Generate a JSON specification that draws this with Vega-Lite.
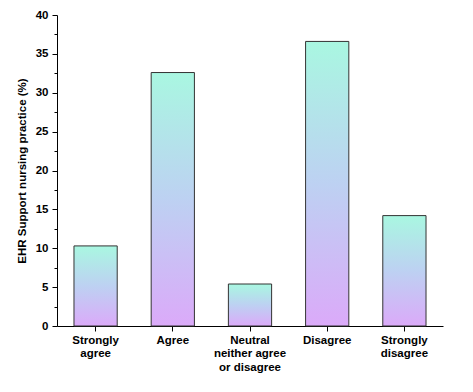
{
  "$schema": "https://vega.github.io/schema/vega-lite/v6.json",
  "width": 386,
  "height": 311,
  "autosize": {"type": "none"},
  "padding": {"left": 57, "top": 15, "right": 30, "bottom": 66},
  "background": "white",
  "config": {"view": {"stroke": null}, "font": "Liberation Sans"},
  "data": {
    "values": [
      {"response": "Strongly|agree", "pct": 10.3},
      {"response": "Agree", "pct": 32.6},
      {"response": "Neutral|neither agree|or disagree", "pct": 5.4},
      {"response": "Disagree", "pct": 36.6},
      {"response": "Strongly|disagree", "pct": 14.2}
    ]
  },
  "mark": {
    "type": "bar",
    "stroke": "#333333",
    "strokeWidth": 1,
    "fill": {
      "gradient": "linear",
      "x1": 0, "y1": 0, "x2": 0, "y2": 1,
      "stops": [
        {"offset": 0, "color": "#a9f7e1"},
        {"offset": 0.5, "color": "#bdd1f2"},
        {"offset": 1, "color": "#dbaaf9"}
      ]
    }
  },
  "encoding": {
    "x": {
      "field": "response",
      "type": "nominal",
      "sort": null,
      "scale": {"paddingInner": 0.44, "paddingOuter": 0.22},
      "axis": {
        "title": null,
        "labelAngle": 0,
        "labelExpr": "split(datum.label, '|')",
        "labelFont": "Liberation Sans",
        "labelFontWeight": "bold",
        "labelFontSize": 11.5,
        "labelColor": "#000000",
        "labelLineHeight": 13.5,
        "labelPadding": 3,
        "domainColor": "#000000",
        "tickColor": "#000000",
        "tickSize": 5
      }
    },
    "y": {
      "field": "pct",
      "type": "quantitative",
      "scale": {"domain": [0, 40], "nice": false},
      "axis": {
        "title": "EHR Support nursing practice (%)",
        "titleFont": "Liberation Sans",
        "titleFontWeight": "bold",
        "titleFontSize": 11.5,
        "titleColor": "#000000",
        "titlePadding": 8,
        "values": [0, 2.5, 5, 7.5, 10, 12.5, 15, 17.5, 20, 22.5, 25, 27.5, 30, 32.5, 35, 37.5, 40],
        "labelExpr": "datum.value % 5 === 0 ? datum.label : ''",
        "labelFont": "Liberation Sans",
        "labelFontWeight": "bold",
        "labelFontSize": 11.5,
        "labelColor": "#000000",
        "labelPadding": 4,
        "grid": false,
        "domainColor": "#000000",
        "tickColor": "#000000",
        "tickSize": {"condition": {"test": "datum.value % 5 === 0", "value": 5}, "value": 3}
      }
    }
  }
}
